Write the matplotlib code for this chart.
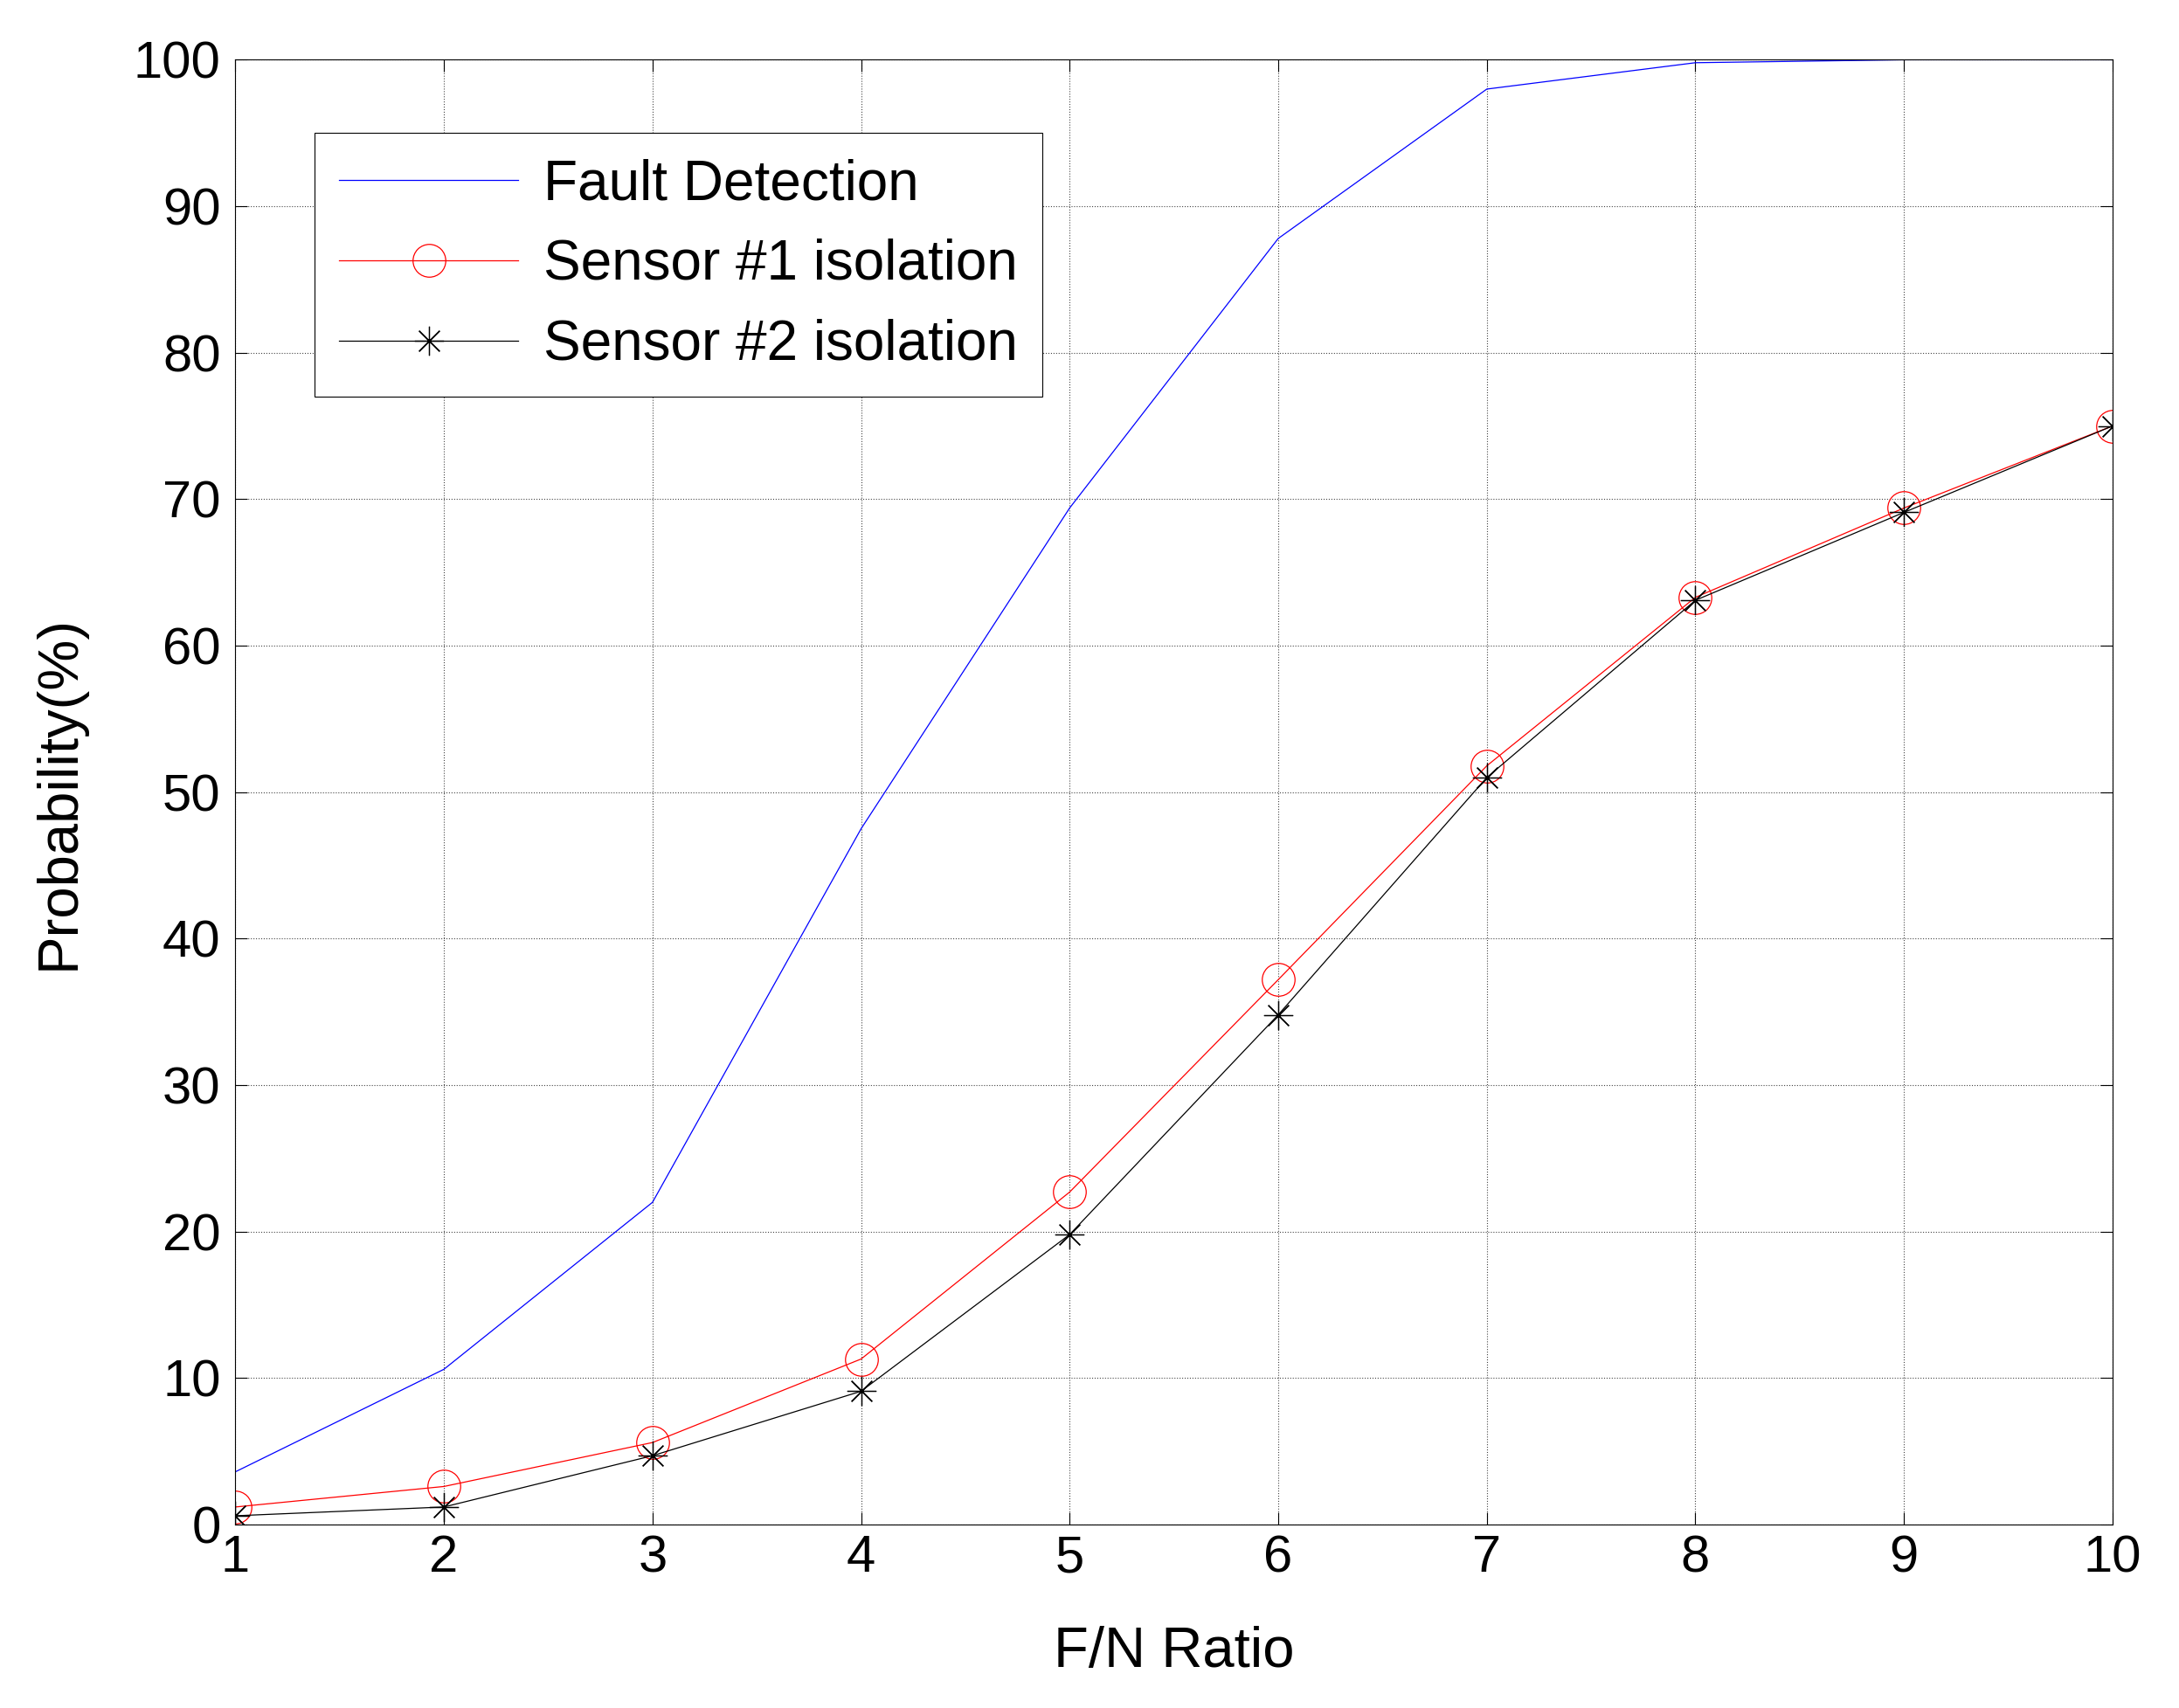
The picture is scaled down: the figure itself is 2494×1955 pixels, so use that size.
import numpy as np
import matplotlib.pyplot as plt

plt.rcParams['font.family'] = ['Liberation Sans', 'DejaVu Sans']

#F/N ratio values on x axis
fn_ratio = [1, 2, 3, 4, 5, 6, 7, 8, 9, 10]
#probabilities in percent
fault_detection = [3.6, 10.6, 22.0, 47.5, 69.4, 87.8, 98.0, 99.8, 100.0, 100.0]
sensor1_isolation = [1.2, 2.6, 5.6, 11.3, 22.7, 37.2, 51.8, 63.3, 69.4, 75.0]
sensor2_isolation = [0.6, 1.2, 4.7, 9.1, 19.8, 34.8, 51.0, 63.1, 69.1, 75.0]
series_names = ["Fault Detection", "Sensor #1 isolation", "Sensor #2 isolation"]

fig = plt.figure(figsize=(24.94, 19.55), dpi=100)
ax = fig.add_axes([0.108, 0.1074, 0.8615, 0.8576])

ax.plot(fn_ratio, fault_detection, "-", color="blue", lw=0.9, label=series_names[0])
ax.plot(fn_ratio, sensor1_isolation, "-", color="red", lw=0.9, marker="o",
        markersize=27, markerfacecolor="none", markeredgecolor="red",
        markeredgewidth=0.9, label=series_names[1])
ax.plot(fn_ratio, sensor2_isolation, "-", color="black", lw=0.9, marker=(8, 2, 0),
        markersize=24, markeredgewidth=0.9, label=series_names[2])

ax.set_xlim(1, 10)
ax.set_ylim(0, 100)
ax.set_xticks(fn_ratio)
ax.set_yticks(np.arange(0, 101, 10))
ax.grid(True, linestyle=":", color="#444444", lw=0.8)
ax.tick_params(direction="in", length=10, width=0.8, top=True, right=True,
               labelsize=43)
ax.tick_params(axis="x", pad=8)
ax.tick_params(axis="y", pad=12)
for s in ax.spines.values():
    s.set_linewidth(0.8)

ax.set_xlabel("F/N Ratio", fontsize=47, labelpad=36)
ax.set_ylabel("Probability(%)", fontsize=47, labelpad=40)

leg = ax.legend(loc="upper left", bbox_to_anchor=(0.042, 0.95), fontsize=46,
                fancybox=False, framealpha=1, edgecolor="black",
                handlelength=3.2, handletextpad=0.45, labelspacing=0.5,
                borderpad=0.45, borderaxespad=0)
leg.get_frame().set_linewidth(0.8)

fig.savefig("out.png", dpi=100)
